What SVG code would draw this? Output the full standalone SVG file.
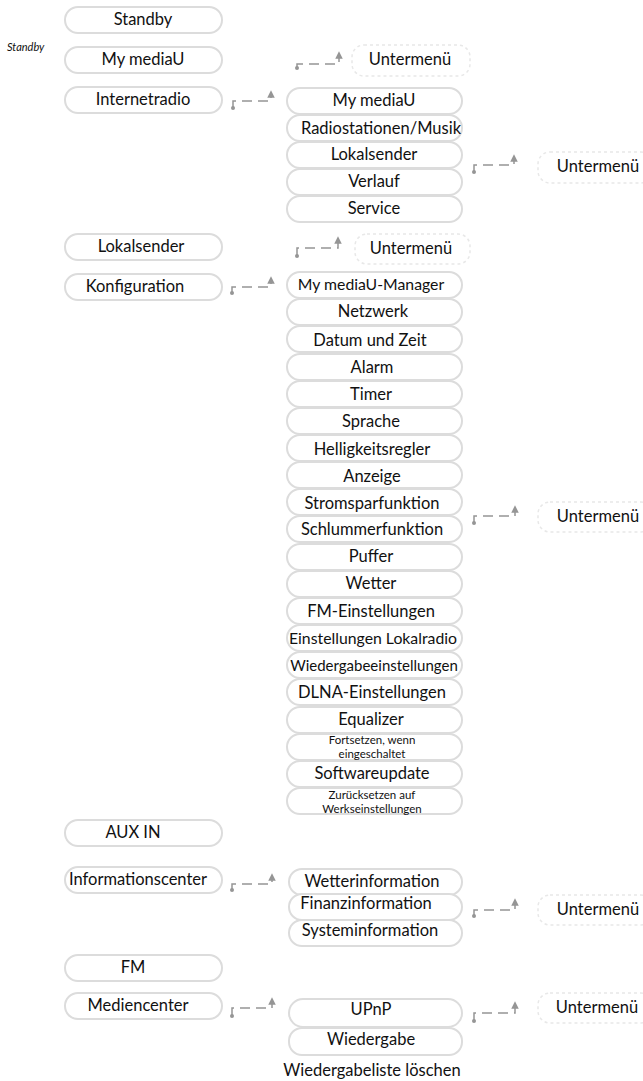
<svg xmlns="http://www.w3.org/2000/svg" width="643" height="1081" viewBox="0 0 643 1081">
<style>
text{font-family:Lato,"Liberation Sans",sans-serif;font-size:16.5px;fill:#111;text-anchor:middle}
.md{font-size:15.8px}
.sm{font-size:15px}
.xs{font-size:11.5px}
.it{font-style:italic;font-size:11px;text-anchor:start}
.box{fill:#fff;stroke:#dcdcdc;stroke-width:2}
.sub{fill:none;stroke:#e8e8e8;stroke-width:1.5;stroke-dasharray:3 3}
.con{fill:none;stroke:#959595;stroke-width:1.5;stroke-dasharray:10 6}
.dot{fill:#959595}
</style>
<defs>
<marker id="ah" viewBox="0 0 6 6" refX="3" refY="3" markerWidth="5" markerHeight="5" orient="auto">
<path d="M0,0 L6,3 L0,6 z" fill="#959595"/>
</marker>
</defs>
<rect width="643" height="1081" fill="#fff"/>
<text class="it" x="7" y="51">Standby</text>

<g id="connectors">
<path class="con" d="M297,68 V64 H339 V55" marker-end="url(#ah)"/><circle class="dot" cx="297" cy="68" r="2"/>
<path class="con" d="M233,108 V101 H271 V94" marker-end="url(#ah)"/><circle class="dot" cx="233" cy="108" r="2"/>
<path class="con" d="M474,172 V165 H514 V158" marker-end="url(#ah)"/><circle class="dot" cx="474" cy="172" r="2"/>
<path class="con" d="M297,256 V248 H338 V240" marker-end="url(#ah)"/><circle class="dot" cx="297" cy="256" r="2"/>
<path class="con" d="M232,293 V287 H271 V280" marker-end="url(#ah)"/><circle class="dot" cx="232" cy="293" r="2"/>
<path class="con" d="M474,523 V516 H515 V509" marker-end="url(#ah)"/><circle class="dot" cx="474" cy="523" r="2"/>
<path class="con" d="M232,890 V884 H272 V877" marker-end="url(#ah)"/><circle class="dot" cx="232" cy="890" r="2"/>
<path class="con" d="M474,916 V910 H515 V902" marker-end="url(#ah)"/><circle class="dot" cx="474" cy="916" r="2"/>
<path class="con" d="M232,1016 V1008 H272 V1001" marker-end="url(#ah)"/><circle class="dot" cx="232" cy="1016" r="2"/>
<path class="con" d="M474,1021 V1013 H515 V1005" marker-end="url(#ah)"/><circle class="dot" cx="474" cy="1021" r="2"/>
</g>

<!-- main menu -->
<g id="n-standby"><rect class="box" x="65" y="7" width="157" height="26" rx="13"/><text x="143" y="25">Standby</text></g>
<g id="n-mymediau"><rect class="box" x="65" y="47" width="157" height="26" rx="13"/><text x="143" y="65">My mediaU</text></g>
<g id="n-internetradio"><rect class="box" x="65" y="87" width="157" height="26" rx="13"/><text x="143" y="105">Internetradio</text></g>
<g id="n-lokalsender"><rect class="box" x="65" y="234" width="157" height="26" rx="13"/><text x="141" y="252">Lokalsender</text></g>
<g id="n-konfiguration"><rect class="box" x="65" y="274" width="157" height="26" rx="13"/><text x="135" y="292">Konfiguration</text></g>
<g id="n-auxin"><rect class="box" x="65" y="820" width="157" height="26" rx="13"/><text x="133" y="838">AUX IN</text></g>
<g id="n-infocenter"><rect class="box" x="65" y="867" width="157" height="26" rx="13"/><text x="138" y="885">Informationscenter</text></g>
<g id="n-fm"><rect class="box" x="65" y="955" width="157" height="26" rx="13"/><text x="133" y="973">FM</text></g>
<g id="n-mediencenter"><rect class="box" x="65" y="993" width="157" height="26" rx="13"/><text x="138" y="1011">Mediencenter</text></g>

<!-- Untermenü nodes -->
<g id="u1"><rect class="sub" x="352" y="45" width="118" height="31" rx="12"/><text x="410" y="65">Untermenü</text></g>
<g id="u2"><rect class="sub" x="538" y="152" width="115" height="31" rx="12"/><text x="598" y="172">Untermenü</text></g>
<g id="u3"><rect class="sub" x="355" y="234" width="115" height="30" rx="12"/><text x="411" y="254">Untermenü</text></g>
<g id="u4"><rect class="sub" x="538" y="502" width="115" height="30" rx="12"/><text x="598" y="522">Untermenü</text></g>
<g id="u5"><rect class="sub" x="538" y="895" width="115" height="30" rx="12"/><text x="598" y="915">Untermenü</text></g>
<g id="u6"><rect class="sub" x="538" y="993" width="115" height="30" rx="12"/><text x="597" y="1013">Untermenü</text></g>

<!-- Internetradio submenu -->
<g id="ir1"><rect class="box" x="287" y="88" width="175" height="26" rx="13"/><text x="374" y="106">My mediaU</text></g>
<g id="ir2"><rect class="box" x="287" y="115" width="175" height="26" rx="13"/><text x="381" y="134">Radiostationen/Musik</text></g>
<g id="ir3"><rect class="box" x="287" y="142" width="175" height="26" rx="13"/><text x="374" y="160">Lokalsender</text></g>
<g id="ir4"><rect class="box" x="287" y="169" width="175" height="26" rx="13"/><text x="374" y="187">Verlauf</text></g>
<g id="ir5"><rect class="box" x="287" y="196" width="175" height="26" rx="13"/><text x="374" y="214">Service</text></g>

<!-- Konfiguration submenu -->
<g id="k1"><rect class="box" x="287" y="272" width="175" height="26" rx="13"/><text class="md" x="371" y="290">My mediaU-Manager</text></g>
<g id="k2"><rect class="box" x="287" y="299" width="175" height="26" rx="13"/><text x="373" y="317">Netzwerk</text></g>
<g id="k3"><rect class="box" x="287" y="326" width="175" height="26" rx="13"/><text x="370" y="346">Datum und Zeit</text></g>
<g id="k4"><rect class="box" x="287" y="354" width="175" height="26" rx="13"/><text x="372" y="373">Alarm</text></g>
<g id="k5"><rect class="box" x="287" y="381" width="175" height="26" rx="13"/><text x="371" y="400">Timer</text></g>
<g id="k6"><rect class="box" x="287" y="408" width="175" height="26" rx="13"/><text x="371" y="427">Sprache</text></g>
<g id="k7"><rect class="box" x="287" y="435" width="175" height="26" rx="13"/><text x="372" y="455">Helligkeitsregler</text></g>
<g id="k8"><rect class="box" x="287" y="462" width="175" height="26" rx="13"/><text x="372" y="482">Anzeige</text></g>
<g id="k9"><rect class="box" x="287" y="489" width="175" height="26" rx="13"/><text x="372" y="509">Stromsparfunktion</text></g>
<g id="k10"><rect class="box" x="287" y="516" width="175" height="26" rx="13"/><text x="372" y="535">Schlummerfunktion</text></g>
<g id="k11"><rect class="box" x="287" y="544" width="175" height="26" rx="13"/><text x="371" y="562">Puffer</text></g>
<g id="k12"><rect class="box" x="287" y="571" width="175" height="26" rx="13"/><text x="371" y="589">Wetter</text></g>
<g id="k13"><rect class="box" x="287" y="598" width="175" height="26" rx="13"/><text x="371" y="617">FM-Einstellungen</text></g>
<g id="k14"><rect class="box" x="287" y="625" width="175" height="26" rx="13"/><text class="md" x="373" y="644">Einstellungen Lokalradio</text></g>
<g id="k15"><rect class="box" x="287" y="652" width="175" height="26" rx="13"/><text class="sm" x="374" y="671">Wiedergabeeinstellungen</text></g>
<g id="k16"><rect class="box" x="287" y="679" width="175" height="26" rx="13"/><text x="372" y="698">DLNA-Einstellungen</text></g>
<g id="k17"><rect class="box" x="287" y="707" width="175" height="26" rx="13"/><text x="371" y="725">Equalizer</text></g>
<g id="k18"><rect class="box" x="287" y="734" width="175" height="26" rx="13"/><text class="xs" x="372" y="743.5">Fortsetzen, wenn</text><text class="xs" x="372" y="757.5">eingeschaltet</text></g>
<g id="k19"><rect class="box" x="287" y="761" width="175" height="26" rx="13"/><text x="372" y="779">Softwareupdate</text></g>
<g id="k20"><rect class="box" x="287" y="788" width="175" height="26" rx="13"/><text class="xs" x="372" y="798.5">Zurücksetzen auf</text><text class="xs" x="372" y="812.5">Werkseinstellungen</text></g>

<!-- Informationscenter submenu -->
<g id="i1"><rect class="box" x="289" y="869" width="173" height="26" rx="13"/><text x="372" y="887">Wetterinformation</text></g>
<g id="i2"><rect class="box" x="289" y="894" width="173" height="26" rx="13"/><text x="366" y="909">Finanzinformation</text></g>
<g id="i3"><rect class="box" x="289" y="920" width="173" height="26" rx="13"/><text x="370" y="936">Systeminformation</text></g>

<!-- Mediencenter submenu -->
<g id="m1"><rect class="box" x="289" y="999" width="173" height="28" rx="14"/><text x="371" y="1015">UPnP</text></g>
<g id="m2"><rect class="box" x="289" y="1028" width="173" height="27" rx="13"/><text x="371" y="1045">Wiedergabe</text></g>
<g id="m3"><text x="372" y="1076">Wiedergabeliste löschen</text></g>
</svg>
